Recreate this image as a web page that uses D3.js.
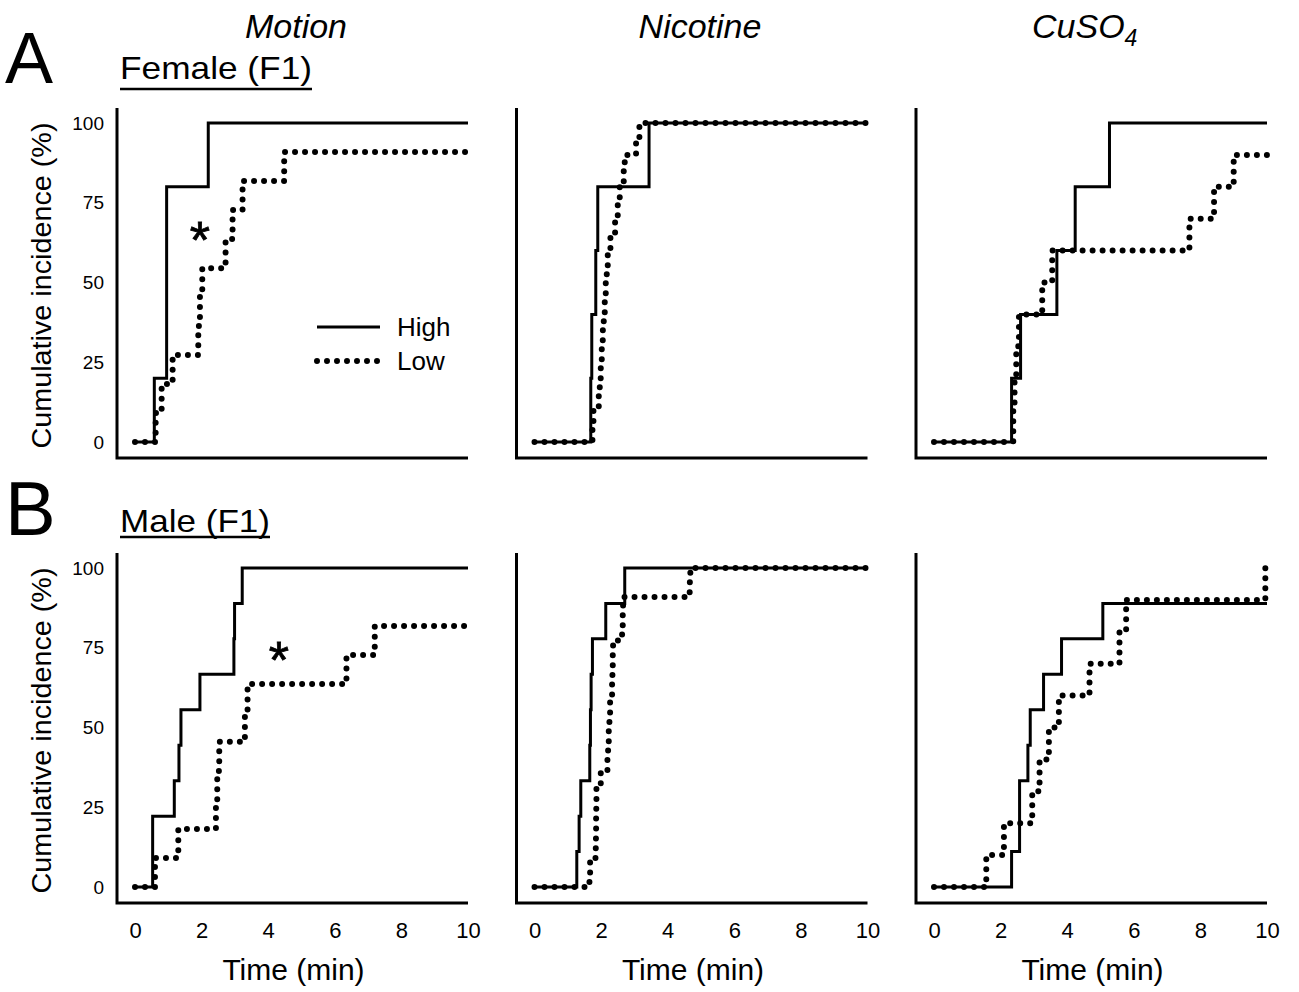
<!DOCTYPE html>
<html><head><meta charset="utf-8">
<script src="https://cdn.jsdelivr.net/npm/d3@7"></script>
<style>
body{margin:0;background:#fff}
svg{display:block}
text{font-family:"Liberation Sans",Arial,Helvetica,sans-serif;fill:#000}
</style>
</head><body>
<svg id="chart" width="1299" height="992"></svg>
<script>
// ---------- labels ----------
const columns = ["Motion", "Nicotine", "CuSO4"];
const rowLabels = ["Female (F1)", "Male (F1)"];
const rowLetters = ["A", "B"];
const seriesNames = ["High", "Low"];
const xTicks = [0, 2, 4, 6, 8, 10];
const yTicks = [0, 25, 50, 75, 100];
const xLabel = "Time (min)";
const yLabel = "Cumulative incidence (%)";

// ---------- data: [time (min), cumulative incidence (%)] ----------
const femaleMotionHigh = [[0,0],[0.58,20],[0.95,80],[2.2,100],[10,100]];
const femaleMotionLow  = [[0,0],[0.62,9.1],[0.8,18.2],[1.13,27.3],[1.9,36.4],[1.95,45.5],[2.02,54.5],[2.72,63.6],[2.93,72.7],[3.23,81.8],[4.48,90.9],[10,90.9]];

const femaleNicotineHigh = [[0,0],[1.69,20],[1.72,40],[1.84,60],[1.9,80],[3.44,100],[10,100]];
const femaleNicotineLow  = [[0,0],[1.74,5],[1.77,10],[1.93,15],[1.96,20],[1.99,25],[2.02,30],[2.05,35],[2.08,40],[2.11,45],[2.14,50],[2.17,55],[2.2,60],[2.28,65],[2.42,70],[2.5,75],[2.56,80],[2.68,85],[2.71,90],[3.05,95],[3.15,100],[10,100]];

const femaleCuso4High = [[0,0],[2.33,20],[2.6,40],[3.69,60],[4.24,80],[5.27,100],[10,100]];
const femaleCuso4Low  = [[0,0],[2.38,10],[2.42,20],[2.47,30],[2.55,40],[3.25,50],[3.55,60],[7.67,70],[8.41,80],[9.0,90],[10,90]];

const maleMotionHigh = [[0,0],[0.53,22.2],[1.18,33.3],[1.32,44.4],[1.38,55.6],[1.95,66.7],[2.97,77.8],[2.99,88.9],[3.22,100],[10,100]];
const maleMotionLow  = [[0,0],[0.6,9.1],[1.3,18.2],[2.43,27.3],[2.47,36.4],[2.53,45.5],[3.3,54.5],[3.38,63.6],[6.35,72.7],[7.2,81.8],[10,81.8]];

const maleNicotineHigh = [[0,0],[1.27,11.1],[1.34,22.2],[1.39,33.3],[1.66,44.4],[1.68,55.6],[1.7,66.7],[1.74,77.8],[2.14,88.9],[2.71,100],[10,100]];
const maleNicotineLow  = [[0,0],[1.65,4.5],[1.67,9.1],[1.84,13.6],[1.845,18.2],[1.85,22.7],[1.855,27.3],[1.86,31.8],[1.99,36.4],[2.19,40.9],[2.21,45.5],[2.23,50],[2.25,54.5],[2.27,59.1],[2.33,63.6],[2.34,68.2],[2.35,72.7],[2.36,77.3],[2.63,81.8],[2.65,86.4],[2.66,90.9],[4.66,95.5],[4.68,100],[10,100]];

const maleCuso4High = [[0,0],[2.33,11.1],[2.57,33.3],[2.82,44.4],[2.89,55.6],[3.29,66.7],[3.83,77.8],[5.07,88.9],[10,88.9]];
const maleCuso4Low  = [[0,0],[1.57,10],[2.1,20],[2.95,30],[3.17,40],[3.45,50],[3.75,60],[4.67,70],[5.57,80],[5.77,90],[9.95,100],[10,100]];

const panels = [
  {row:0, col:0, high:femaleMotionHigh,   low:femaleMotionLow},
  {row:0, col:1, high:femaleNicotineHigh, low:femaleNicotineLow},
  {row:0, col:2, high:femaleCuso4High,    low:femaleCuso4Low},
  {row:1, col:0, high:maleMotionHigh,     low:maleMotionLow},
  {row:1, col:1, high:maleNicotineHigh,   low:maleNicotineLow},
  {row:1, col:2, high:maleCuso4High,      low:maleCuso4Low}
];
// significance markers (panel, time, %)
const asterisks = [{row:0, col:0, t:1.95, v:67}, {row:1, col:0, t:4.32, v:75}];

// ---------- layout ----------
const svg = d3.select("#chart");
svg.append("rect").attr("width",1299).attr("height",992).attr("fill","#fff");
const colX0 = [135, 534.5, 934];
const panelW = 333;
const rowY0 = [442, 887];
const panelH = 319;
const FONT = '"Liberation Sans",Arial,sans-serif';

const scales = {};
panels.forEach(p => {
  const x = d3.scaleLinear().domain([0, 10]).range([colX0[p.col], colX0[p.col] + panelW]);
  const y = d3.scaleLinear().domain([0, 100]).range([rowY0[p.row], rowY0[p.row] - panelH]);
  scales[p.row + "_" + p.col] = {x, y};
  const g = svg.append("g");
  const axX = x(0) - 18, axBottom = y(0) + 16, axTop = y(100) - 15;
  g.append("path")
    .attr("d", `M${axX},${axTop}V${axBottom}H${x(10)}`)
    .attr("fill", "none").attr("stroke", "#000").attr("stroke-width", 3);

  if (p.col === 0) {
    const ya = g.append("g").attr("transform", `translate(${axX},0)`)
      .call(d3.axisLeft(y).tickValues(yTicks).tickSize(0).tickPadding(13).tickFormat(d3.format("d")));
    ya.select(".domain").remove();
    ya.selectAll("text").attr("font-size", 19).attr("font-family", FONT).attr("fill","#000");
    g.append("text")
      .attr("transform", `translate(51,${y(50) + 3}) rotate(-90)`)
      .attr("text-anchor", "middle").attr("font-size", 27)
      .attr("textLength", 326).attr("lengthAdjust", "spacingAndGlyphs")
      .text(yLabel);
  }
  if (p.row === 1) {
    const xa = g.append("g").attr("transform", `translate(0,${axBottom})`)
      .call(d3.axisBottom(x).tickValues(xTicks).tickSize(0).tickPadding(19).tickFormat(d3.format("d")));
    xa.select(".domain").remove();
    xa.selectAll("text").attr("font-size", 22).attr("font-family", FONT).attr("fill","#000");
    g.append("text")
      .attr("x", (x(0) + x(10)) / 2 - 8).attr("y", 980)
      .attr("text-anchor", "middle").attr("font-size", 30)
      .text(xLabel);
  }

  const line = d3.line().x(d => x(d[0])).y(d => y(d[1])).curve(d3.curveStepAfter);
  g.append("path").datum(p.high).attr("d", line)
    .attr("fill", "none").attr("stroke", "#000").attr("stroke-width", 3);
  g.append("path").datum(p.low).attr("d", line)
    .attr("fill", "none").attr("stroke", "#000").attr("stroke-width", 6)
    .attr("stroke-dasharray", "0 10").attr("stroke-linecap", "round");
});

// asterisks
asterisks.forEach(a => {
  const s = scales[a.row + "_" + a.col];
  svg.append("text").attr("x", s.x(a.t)).attr("y", s.y(a.v) + 30)
    .attr("text-anchor", "middle").attr("font-size", 52)
    .attr("stroke", "#000").attr("stroke-width", 0.8).text("*");
});

// column titles
const titleX = [296, 700, 1032];
svg.append("text").attr("x", titleX[0]).attr("y", 38).attr("text-anchor", "middle")
  .attr("font-size", 34).attr("font-style", "italic").text(columns[0]);
svg.append("text").attr("x", titleX[1]).attr("y", 38).attr("text-anchor", "middle")
  .attr("font-size", 34).attr("font-style", "italic").text(columns[1]);
const cu = svg.append("text").attr("x", titleX[2]).attr("y", 38)
  .attr("font-size", 34).attr("font-style", "italic");
cu.append("tspan").text(columns[2].slice(0, 4));
cu.append("tspan").attr("dy", 8).attr("font-size", 23).text(columns[2].slice(4));

// row letters & labels
const letterY = [83, 535];
const letterSize = [72, 76];
const rowLabelY = [79, 532];
const underlineY = [89, 537];
const rowLabelW = [192, 150];
rowLetters.forEach((L, i) => {
  svg.append("text").attr("x", 5).attr("y", letterY[i]).attr("font-size", letterSize[i]).text(L);
  svg.append("text").attr("x", 120).attr("y", rowLabelY[i]).attr("font-size", 32)
    .attr("textLength", rowLabelW[i]).attr("lengthAdjust", "spacingAndGlyphs").text(rowLabels[i]);
  svg.append("line").attr("x1", 120).attr("x2", 120 + rowLabelW[i])
    .attr("y1", underlineY[i]).attr("y2", underlineY[i])
    .attr("stroke", "#000").attr("stroke-width", 2.5);
});

// legend (in panel A, Motion)
const lg = svg.append("g");
const legendLine = d3.line();
lg.append("path").attr("d", legendLine([[317, 327], [380, 327]]))
  .attr("stroke", "#000").attr("stroke-width", 3).attr("fill", "none");
lg.append("path").attr("d", legendLine([[317, 361], [380, 361]]))
  .attr("stroke", "#000").attr("stroke-width", 6).attr("fill", "none")
  .attr("stroke-dasharray", "0 10").attr("stroke-linecap", "round");
lg.append("text").attr("x", 397).attr("y", 336).attr("font-size", 26).text(seriesNames[0]);
lg.append("text").attr("x", 397).attr("y", 370).attr("font-size", 26).text(seriesNames[1]);
</script>
</body></html>
